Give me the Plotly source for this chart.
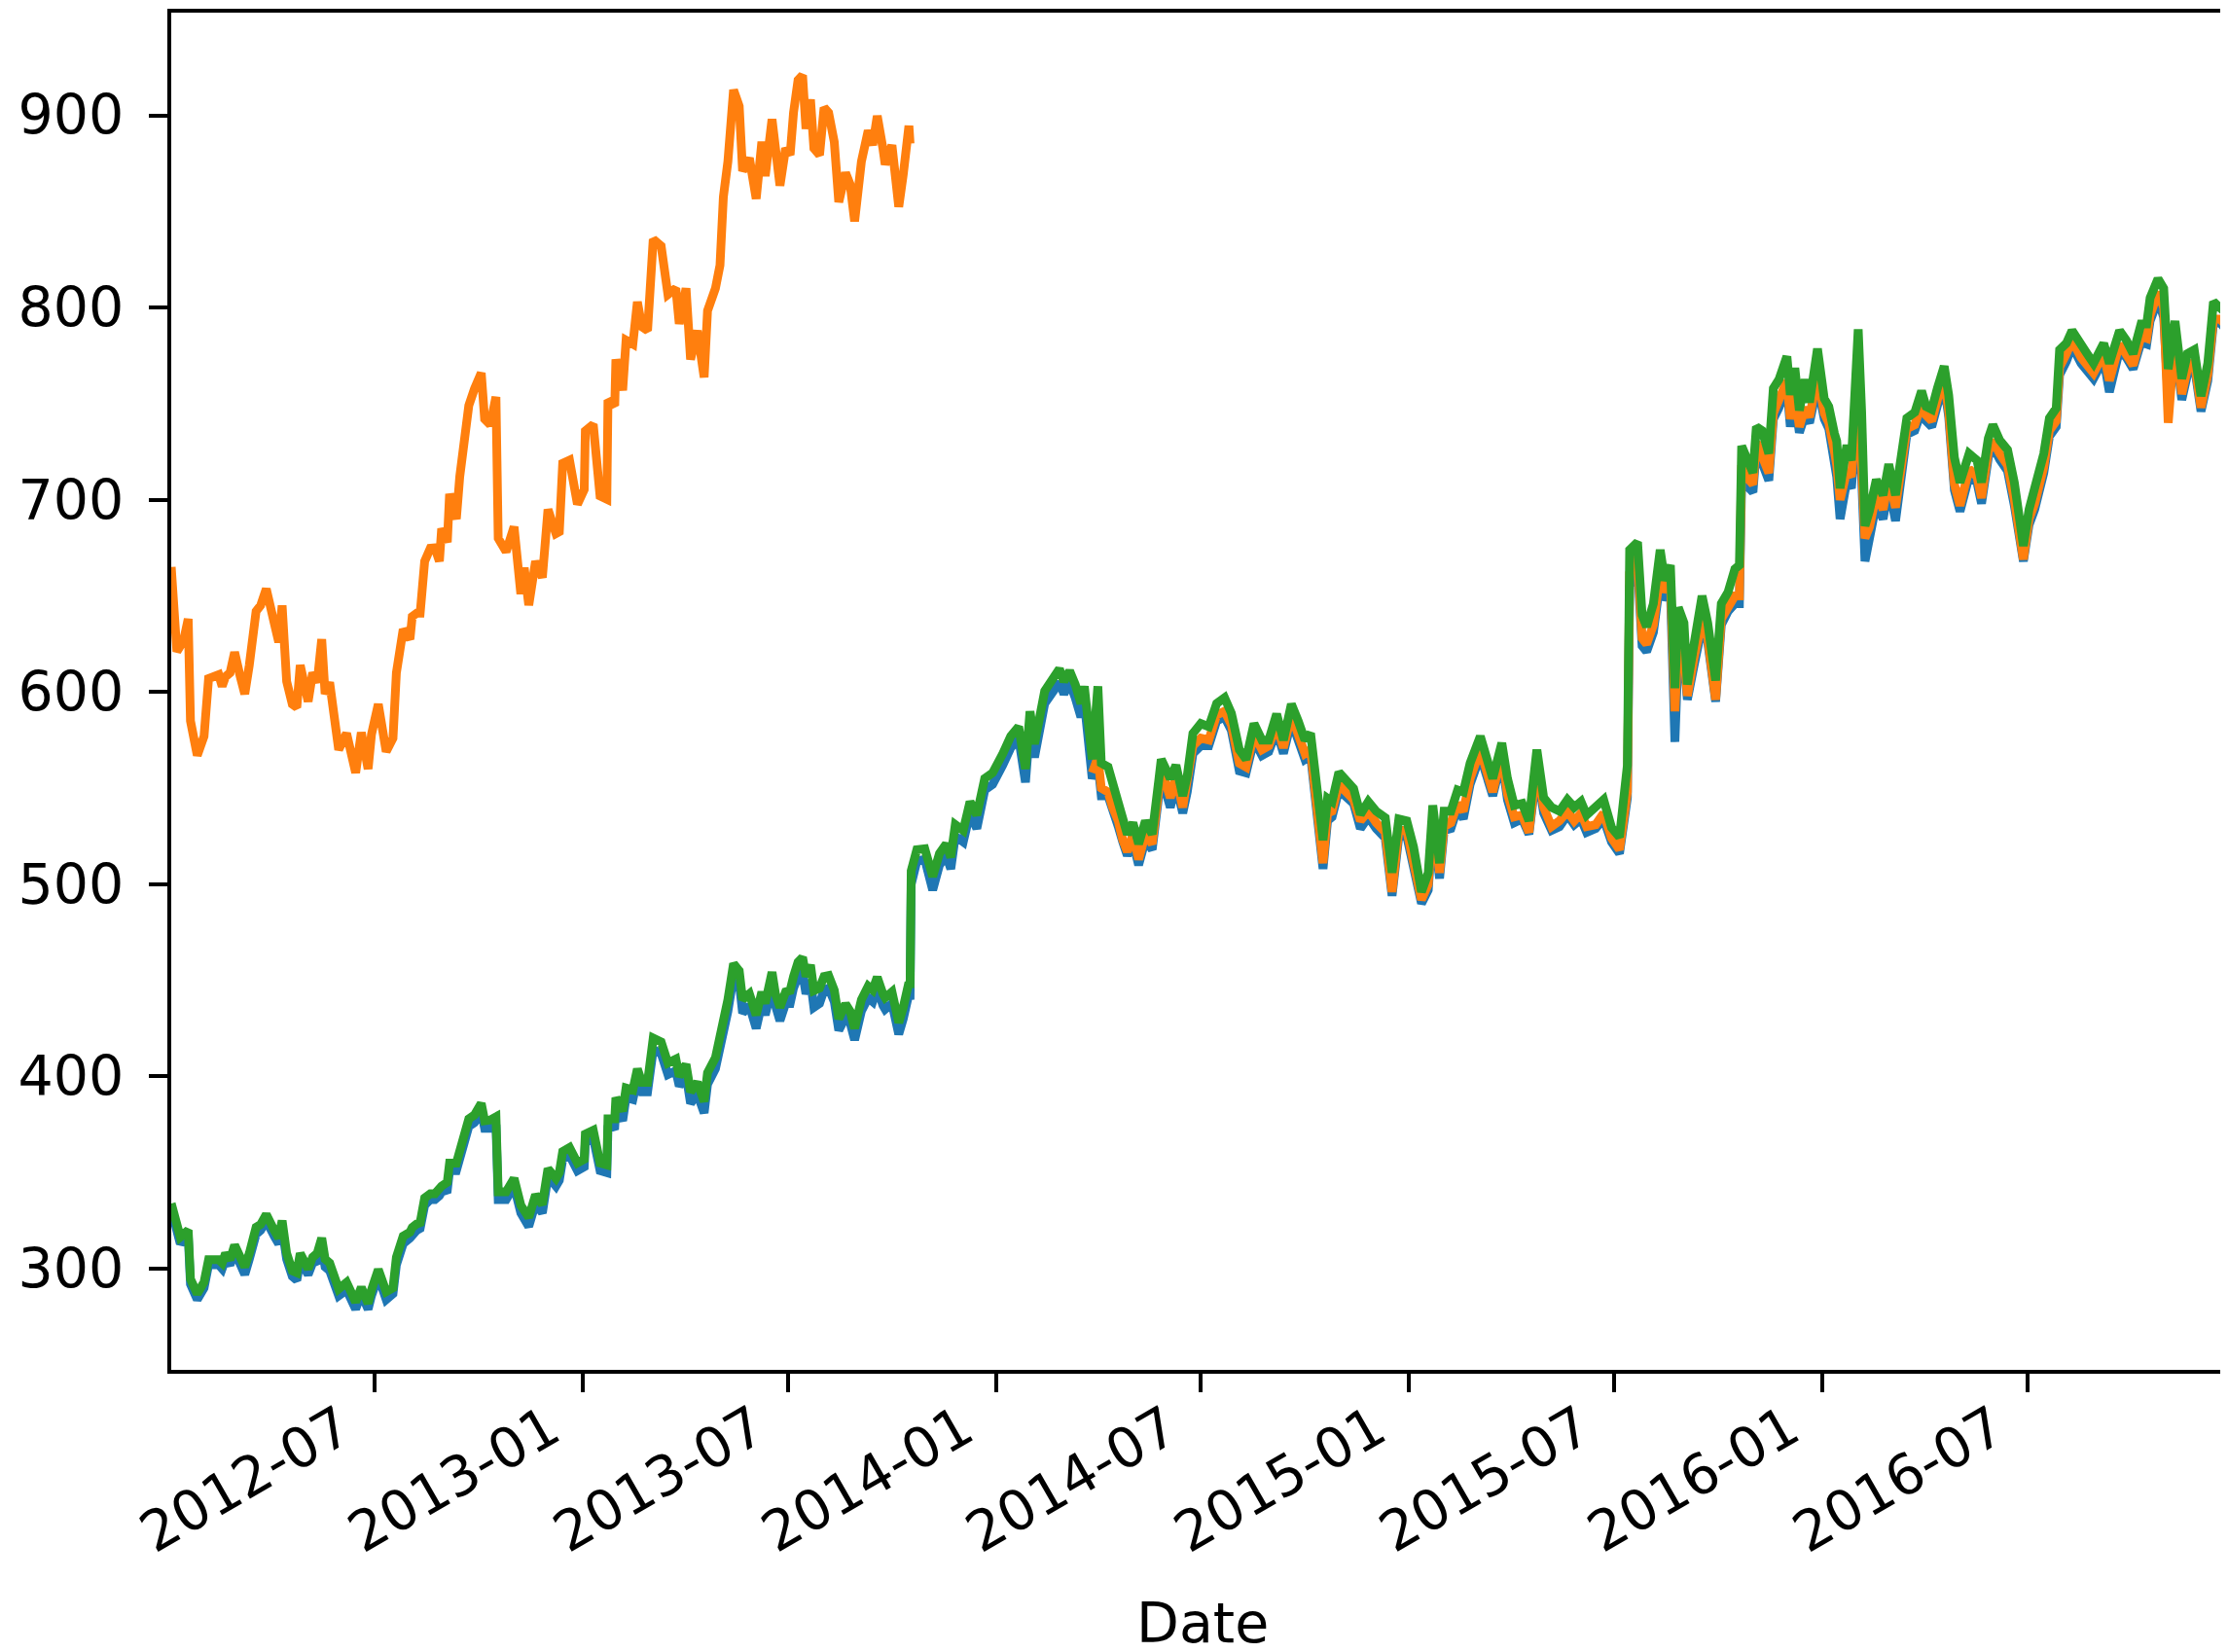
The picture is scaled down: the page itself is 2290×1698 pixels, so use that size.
import plotly.graph_objects as go

dates = [
    '2012-01-03', '2012-01-08', '2012-01-11', '2012-01-14', '2012-01-18', '2012-01-20', '2012-01-26',
    '2012-02-01', '2012-02-05', '2012-02-14', '2012-02-17', '2012-02-20', '2012-02-24', '2012-02-28',
    '2012-03-04', '2012-03-08', '2012-03-12', '2012-03-18', '2012-03-22', '2012-03-27',
    '2012-04-03', '2012-04-07', '2012-04-10', '2012-04-14', '2012-04-19', '2012-04-23', '2012-04-26',
    '2012-05-03', '2012-05-07', '2012-05-11', '2012-05-15', '2012-05-18', '2012-05-22', '2012-05-25', '2012-05-30',
    '2012-06-06', '2012-06-10', '2012-06-14', '2012-06-19', '2012-06-25', '2012-06-28',
    '2012-07-04', '2012-07-11', '2012-07-17', '2012-07-20', '2012-07-26',
    '2012-08-01', '2012-08-03', '2012-08-07', '2012-08-10', '2012-08-14', '2012-08-19', '2012-08-23', '2012-08-27', '2012-08-29',
    '2012-09-03', '2012-09-05', '2012-09-11', '2012-09-14', '2012-09-17', '2012-09-22', '2012-09-27',
    '2012-10-03', '2012-10-06', '2012-10-11', '2012-10-16', '2012-10-18', '2012-10-25',
    '2012-11-01', '2012-11-07', '2012-11-10', '2012-11-14', '2012-11-20', '2012-11-26',
    '2012-12-01', '2012-12-08', '2012-12-11', '2012-12-14', '2012-12-20', '2012-12-27',
    '2013-01-02', '2013-01-03', '2013-01-10', '2013-01-16', '2013-01-22', '2013-01-23', '2013-01-29', '2013-01-30',
    '2013-02-05', '2013-02-08', '2013-02-14', '2013-02-18', '2013-02-22', '2013-02-27',
    '2013-03-04', '2013-03-11', '2013-03-17', '2013-03-24', '2013-03-27',
    '2013-04-02', '2013-04-06', '2013-04-12', '2013-04-18', '2013-04-21', '2013-04-28',
    '2013-05-02', '2013-05-05', '2013-05-09', '2013-05-14', '2013-05-19', '2013-05-22', '2013-05-28',
    '2013-06-03', '2013-06-08', '2013-06-11', '2013-06-17', '2013-06-20', '2013-06-24', '2013-06-29',
    '2013-07-03', '2013-07-06', '2013-07-10', '2013-07-14', '2013-07-17', '2013-07-21', '2013-07-24', '2013-07-29',
    '2013-08-02', '2013-08-06', '2013-08-11', '2013-08-15', '2013-08-21', '2013-08-25', '2013-08-29',
    '2013-09-04', '2013-09-10', '2013-09-14', '2013-09-18', '2013-09-23', '2013-09-25',
    '2013-10-01', '2013-10-07', '2013-10-11', '2013-10-16', '2013-10-17',
    '2013-10-18', '2013-10-23', '2013-10-30', '2013-11-06', '2013-11-12', '2013-11-18', '2013-11-22', '2013-11-26',
    '2013-12-03', '2013-12-09', '2013-12-15', '2013-12-22', '2013-12-29',
    '2014-01-07', '2014-01-14', '2014-01-21', '2014-01-27', '2014-01-31', '2014-02-04', '2014-02-13', '2014-02-19',
    '2014-02-26', '2014-03-02', '2014-03-07', '2014-03-12', '2014-03-17', '2014-03-20', '2014-03-24',
    '2014-03-27', '2014-04-01', '2014-04-04', '2014-04-10', '2014-04-14', '2014-04-19', '2014-04-23', '2014-04-27',
    '2014-05-02', '2014-05-07', '2014-05-13', '2014-05-19', '2014-05-25', '2014-05-27',
    '2014-06-04', '2014-06-09', '2014-06-15', '2014-06-19', '2014-06-24',
    '2014-07-01', '2014-07-08', '2014-07-15', '2014-07-22', '2014-07-28',
    '2014-08-04', '2014-08-10', '2014-08-17', '2014-08-24', '2014-08-30',
    '2014-09-06', '2014-09-12', '2014-09-19', '2014-09-25',
    '2014-10-01', '2014-10-06', '2014-10-12', '2014-10-17', '2014-10-21', '2014-10-25', '2014-10-31',
    '2014-11-07', '2014-11-13', '2014-11-19', '2014-11-26',
    '2014-12-03', '2014-12-11', '2014-12-17', '2014-12-23', '2014-12-30',
    '2015-01-05', '2015-01-12', '2015-01-18', '2015-01-22', '2015-01-28',
    '2015-02-01', '2015-02-07', '2015-02-13', '2015-02-18', '2015-02-24',
    '2015-03-05', '2015-03-10', '2015-03-16', '2015-03-24', '2015-03-29',
    '2015-04-04', '2015-04-11', '2015-04-17', '2015-04-24', '2015-04-30',
    '2015-05-07', '2015-05-14', '2015-05-21', '2015-05-27',
    '2015-06-02', '2015-06-07', '2015-06-15', '2015-06-22', '2015-06-29',
    '2015-07-06', '2015-07-13', '2015-07-15', '2015-07-22', '2015-07-26', '2015-07-30',
    '2015-08-05', '2015-08-11', '2015-08-15', '2015-08-20', '2015-08-24', '2015-08-27',
    '2015-09-01', '2015-09-04', '2015-09-10', '2015-09-17', '2015-09-22', '2015-09-29',
    '2015-10-04', '2015-10-10', '2015-10-16', '2015-10-20', '2015-10-22', '2015-10-26',
    '2015-11-01', '2015-11-04', '2015-11-09', '2015-11-15', '2015-11-19', '2015-11-24',
    '2015-12-01', '2015-12-04', '2015-12-08', '2015-12-12', '2015-12-17', '2015-12-21', '2015-12-28',
    '2016-01-03', '2016-01-07', '2016-01-12', '2016-01-14', '2016-01-17', '2016-01-23', '2016-01-27', '2016-01-30',
    '2016-02-02', '2016-02-05', '2016-02-08', '2016-02-12', '2016-02-18', '2016-02-24', '2016-02-29',
    '2016-03-06', '2016-03-12', '2016-03-16', '2016-03-23', '2016-03-29',
    '2016-04-02', '2016-04-07', '2016-04-12', '2016-04-18', '2016-04-22', '2016-04-27',
    '2016-05-02', '2016-05-10', '2016-05-17', '2016-05-21', '2016-05-27', '2016-05-31',
    '2016-06-06', '2016-06-13', '2016-06-19', '2016-06-24', '2016-06-27',
    '2016-07-02', '2016-07-07', '2016-07-15', '2016-07-20', '2016-07-26', '2016-07-29',
    '2016-08-04', '2016-08-09', '2016-08-17', '2016-08-22', '2016-08-28',
    '2016-09-06', '2016-09-11', '2016-09-20', '2016-09-26',
    '2016-10-02', '2016-10-09', '2016-10-14', '2016-10-17', '2016-10-24', '2016-10-29',
    '2016-11-02', '2016-11-08', '2016-11-14', '2016-11-19', '2016-11-25',
    '2016-12-01', '2016-12-07', '2016-12-12', '2016-12-18', '2016-12-24', '2016-12-30',
]

open_price = [
    331, 319, 313, 315, 317, 292, 284,
    290, 302, 302, 300, 305, 302, 309,
    303, 297, 305, 318, 320, 325,
    317, 313, 321, 305, 296, 294, 304,
    297, 303, 304, 312, 301, 299, 295, 286,
    289, 285, 279, 287, 279, 286,
    296, 284, 287, 302, 313,
    316, 318, 320, 321, 333, 336, 336, 338, 340,
    341, 351, 351, 358, 363, 374, 376,
    382, 373, 373, 375, 336, 336,
    343, 329, 326, 322, 334, 329,
    348, 343, 346, 357, 359, 351,
    353, 366, 368, 351, 350, 373, 374, 384,
    377, 389, 388, 399, 392, 392,
    414, 412, 401, 403, 395,
    401, 386, 391, 381, 396, 404,
    414, 426, 434, 452, 449, 433, 437,
    425, 438, 432, 447, 437, 429, 438,
    438, 446, 452, 454, 443, 450, 436, 438,
    445, 446, 439, 424, 431, 428, 419,
    434, 441, 439, 446, 437, 435,
    438, 422, 430, 443, 440,
    500, 512, 513, 497, 510, 515, 508, 525,
    522, 537, 529, 549, 552,
    562, 571, 576, 553, 583, 566, 594, 599,
    605, 599, 605, 597, 587, 595, 572,
    555, 563, 546, 546, 537, 530, 522, 515,
    522, 510, 523, 518, 547, 556,
    540, 552, 537, 548, 568,
    572, 572, 585, 587, 580,
    559, 558, 575, 567, 569,
    580, 568, 585, 575,
    565, 567, 538, 508, 533, 535, 549,
    545, 542, 529, 535,
    529, 524, 494, 525, 525,
    510, 490, 497, 532, 503,
    528, 529, 540, 534, 552,
    567, 557, 546, 565, 544,
    532, 534, 526, 560, 537,
    528, 530, 536, 531,
    534, 527, 529, 534, 522,
    516, 545, 655, 665, 624, 621,
    631, 658, 648, 653, 574, 622,
    617, 596, 614, 634, 626, 595,
    635, 642, 646, 646, 710, 708,
    704, 727, 720, 710, 742, 748,
    759, 738, 752, 735, 744, 740, 760,
    742, 737, 722, 712, 690, 710, 706, 735,
    750, 712, 668, 680, 698, 690, 707,
    689, 720, 734, 736, 746,
    741, 738, 749, 760, 743, 705,
    694, 712, 709, 698, 722, 728,
    721, 715, 697, 680, 668,
    687, 695, 714, 733, 738, 765,
    772, 780, 771, 768, 763,
    773, 756, 778, 774,
    768, 782, 781, 793, 804, 795,
    752, 782, 752, 765, 770,
    746, 762, 792, 792, 788, 780,
]

# pre-split closes are unadjusted; the gap is where the close is missing
close_price = [
    665, 621, 624, 627, 638, 585, 567,
    577, 607, 609, 603, 608, 610, 620.7,
    608, 599, 614, 642, 645, 653.7,
    636, 626, 645, 605.5, 593.7, 592, 614,
    595, 610, 605, 627.5, 599, 605, 590, 570,
    578.5, 570, 558, 579, 560, 578,
    593.7, 569, 576, 610, 632.6,
    627.5, 639.3, 641, 641, 668, 674.8, 675, 668, 685,
    678, 703, 690, 712, 725.6, 749, 757.7,
    766, 742, 739, 753.5, 680, 673,
    686, 651, 664.7, 645.2, 668, 659.6,
    695, 682.4, 683.4, 719, 720.6, 697.7,
    705.3, 735.8, 739.2, 702, 700.3, 751.8, 749, 773,
    757, 783, 781, 803, 790, 788,
    835.5, 832, 806.8, 810, 791.5,
    810, 773, 788, 763.7, 798.3, 810,
    822, 857.5, 876, 913.2, 904.8, 871, 877.7,
    856.6, 886.2, 868.4, 898, 879.4, 863.4, 882.8,
    879.4, 901.4, 918.3, 920.8, 893, 908.2, 882.8, 879.4,
    904, 901.4, 886.2, 854.9, 870.1, 864.2, 844.8,
    876, 892.1, 884.5, 899.7, 882.8, 874.4,
    884.5, 852.4, 869.3, 894.6, 885.3,
    None, None, None, None, None, None, None, None,
    None, None, None, None, None,
    None, None, None, None, None, None, None, None,
    None, None, None, None, None, None, None,
    558, 566, 550, 548, 540, 533, 523, 517,
    526, 513, 526, 521, 550, 560,
    545, 556, 540, 552, 572,
    576, 575, 588, 590, 583,
    563, 561, 578, 570, 572,
    583, 571, 588, 578,
    568, 570, 542, 511, 537, 538, 552,
    547, 544, 533, 538,
    532, 527, 496, 528, 528,
    512, 492, 500, 535, 506,
    530, 532, 542, 538, 555,
    570, 560, 548, 568, 547,
    535, 536, 527, 563, 540,
    530, 533, 538, 533,
    537, 530, 531, 537, 524,
    518, 548, 662, 670, 628, 625,
    635, 662, 652, 658, 590, 628,
    620, 598, 618, 637, 628, 596,
    638, 645, 650, 650, 718, 712,
    708, 730, 722, 714, 745, 752,
    762, 742, 755, 738, 748, 743, 765,
    745, 740, 725, 718, 700, 715, 712, 740,
    760, 718, 680, 686, 703, 695, 711,
    696, 724, 737, 739, 750,
    744, 741, 752, 763, 746, 708,
    697, 716, 712, 701, 725, 731,
    724, 718, 700, 682, 669,
    690, 698, 717, 736, 741, 769,
    776, 783, 774, 770, 766,
    776, 762, 781, 776,
    770, 785, 784, 796, 808, 800,
    740, 785, 755, 768, 772,
    748, 765, 794, 794, 790, 771,
]

high_price = [
    334, 322, 316.5, 318, 320, 294.6, 287,
    293, 304.7, 304.7, 303, 308, 304.7, 312.3,
    306, 301, 308, 321.6, 323, 328.3,
    320, 316, 325, 308, 299, 298, 308,
    300, 306, 308, 316, 305, 303, 298, 289.5,
    292.9, 288, 282.7, 290.3, 282, 289,
    299.6, 288, 290, 306, 317,
    319, 321.5, 323.3, 324, 336.8, 339, 339, 341.9, 343,
    345, 355, 355, 362, 367, 378, 380,
    386, 377, 377.4, 379, 340, 340,
    347, 333, 330, 326.7, 338.5, 333.4,
    352, 347, 350, 361, 363, 355,
    357, 370, 372, 355, 354, 378, 378, 389,
    382, 394, 393, 404, 397, 397,
    420, 418, 407, 409, 400,
    406.3, 392, 397, 387, 402, 409.8,
    420, 432, 440, 458.7, 455, 440, 443,
    432, 444, 438, 454.3, 443, 436, 444,
    444.7, 452, 459.5, 462, 452, 458, 444.7, 446,
    452, 452.5, 445, 430, 437.7, 434, 425,
    440, 447, 445, 451.7, 443, 441,
    444, 428, 436, 449, 446,
    507, 518, 518.5, 504, 516, 521, 514, 531,
    528, 543, 536, 555, 558,
    568, 577, 582, 560, 590, 573, 600.5, 605.5,
    612, 605.5, 611, 604, 594, 603, 580,
    565, 603, 563, 561, 553, 545, 535, 526,
    532, 521, 533, 526, 555, 565,
    555, 562, 546, 556.5, 578.5,
    583.6, 582, 594, 597, 589,
    570, 565, 583.6, 575, 575,
    588.6, 575, 593.7, 585,
    575, 578.5, 551, 523, 544.7, 543, 558.3,
    553, 549.8, 536.3, 543,
    538, 534.6, 506, 534, 533,
    519.4, 496, 506, 541, 511,
    538, 538, 549, 548, 563,
    577, 567, 555, 573.5, 555,
    541, 542, 533, 570, 545,
    540, 538, 544, 540,
    543, 536, 540, 544, 529.5,
    524.5, 562, 674, 678, 640, 634,
    646, 674, 658, 666, 602, 644,
    636, 604, 626, 650, 636, 606,
    646, 652, 664, 666, 728, 722,
    714, 738, 736, 724, 758, 762.6,
    774.6, 754.6, 768.6, 746.5, 762.6, 750.6, 778.6,
    752.6, 748.5, 734.5, 730.5, 706, 728.5, 720.5, 746.5,
    788.7, 746.5, 686.4, 694.4, 710.5, 702.4, 718.5,
    702.4, 730.5, 742.5, 745.5, 756.6,
    748.5, 747, 758, 769.5, 754.3, 722,
    709, 724, 720.5, 709, 732, 739,
    731, 726, 709, 690, 676,
    695, 705, 724, 742.5, 747.6, 778,
    781.4, 788, 779.7, 776.3, 771,
    781.4, 771, 788, 783,
    776, 791.5, 791.5, 805, 815, 810,
    768, 793, 763, 776, 778,
    754, 771, 803, 800, 796.6, 782,
]

tick_dates = ['2012-07-01', '2013-01-01', '2013-07-01', '2014-01-01', '2014-07-01',
              '2015-01-01', '2015-07-01', '2016-01-01', '2016-07-01']
tick_labels = ['2012-07', '2013-01', '2013-07', '2014-01', '2014-07',
               '2015-01', '2015-07', '2016-01', '2016-07']
y_ticks = [300, 400, 500, 600, 700, 800, 900]

fig = go.Figure()
for name, vals, color in [('Open', open_price, '#1f77b4'),
                          ('Close', close_price, '#ff7f0e'),
                          ('High', high_price, '#2ca02c')]:
    fig.add_trace(go.Scatter(x=dates, y=vals, mode='lines', name=name,
                             line=dict(color=color, width=9), connectgaps=False))

fig.update_layout(
    width=2290, height=1698,
    margin=dict(l=168, r=2, t=5, b=298),
    paper_bgcolor='white', plot_bgcolor='white',
    showlegend=False,
    font=dict(family='DejaVu Sans', size=57, color='black'),
)
fig.update_xaxes(
    range=['2012-01-03', '2016-12-30'],
    tickvals=tick_dates, showticklabels=False,
    ticks='outside', ticklen=19, tickwidth=4.4, tickcolor='black',
    showline=True, linewidth=4.4, linecolor='black', mirror=True,
    showgrid=False, zeroline=False, automargin=False,
)
fig.update_yaxes(
    range=[247.4, 953.4], tickvals=y_ticks, ticklabelstandoff=14,
    ticks='outside', ticklen=19, tickwidth=4.4, tickcolor='black',
    showline=True, linewidth=4.4, linecolor='black', mirror=True,
    showgrid=False, zeroline=False, automargin=False,
)

# rotated date labels, right end hanging under each tick (like autofmt_xdate)
for d, lab in zip(tick_dates, tick_labels):
    fig.add_annotation(text=lab, x=d, xref='x', yref='paper', y=-0.016, xshift=-12,
                       xanchor='right', yanchor='top', textangle=-30, showarrow=False,
                       borderpad=0, font=dict(family='DejaVu Sans', size=57, color='black'))

fig.add_annotation(text='Date', xref='paper', yref='paper', x=0.5, y=-0.2115,
                   xanchor='center', yanchor='bottom', showarrow=False,
                   font=dict(family='DejaVu Sans', size=57, color='black'))

fig.write_html("out.html")
